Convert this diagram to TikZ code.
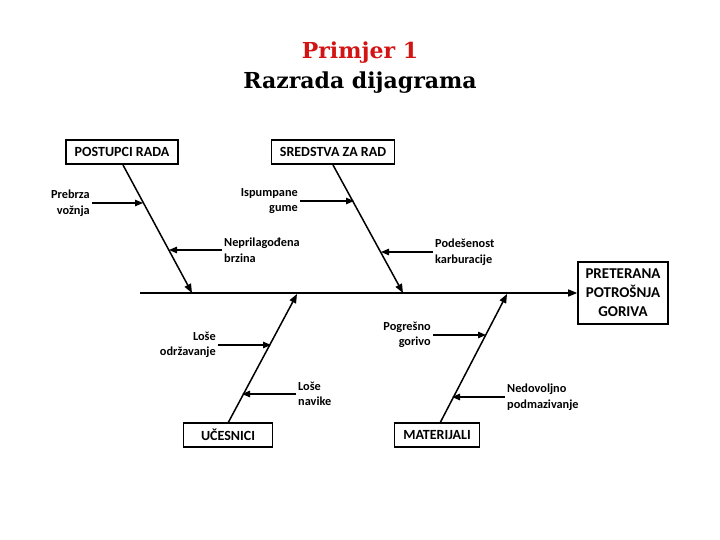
\documentclass[tikz,border=0pt]{standalone}
\usepackage{fontspec}
\setmainfont{Carlito}
\newfontfamily\titlefont{DejaVu Serif}
\usepackage{xcolor}
\definecolor{fbred}{RGB}{210,20,20}
\usetikzlibrary{arrows.meta,positioning,calc}

\begin{document}
\begin{tikzpicture}[x=1pt,y=-1pt,
  cause/.style={rectangle, draw=black, line width=1.6pt, fill=white,
                minimum height=24pt, inner sep=2pt,
                font=\fontsize{14}{16}\selectfont\bfseries},
  effect/.style={rectangle, draw=black, line width=1.6pt,
                 minimum width=90pt, minimum height=62pt, align=center,
                 inner sep=1pt, font=\fontsize{15}{19}\selectfont\bfseries},
  sub/.style={inner sep=2pt, font=\fontsize{12.3}{15.5}\selectfont\bfseries},
  bone/.style={-{Triangle[length=9pt,width=7pt]}, line width=1.5pt},
  conn/.style={-{Triangle[length=8pt,width=6.5pt]}, line width=1.2pt}
]
\useasboundingbox (0,0) rectangle (720,540);

% title
\node[font=\titlefont\bfseries\fontsize{22}{26}\selectfont, text=fbred] (t1) at (360,53) {Primjer 1};
\node[font=\titlefont\bfseries\fontsize{22}{26}\selectfont] (t2) at (360,83) {Razrada dijagrama};

% head and spine
\node[effect] (eff) at (623,293) {PRETERANA\\POTROŠNJA\\GORIVA};
\coordinate (tail) at (140,293);
\draw[bone] (tail) -- (eff.west);

% main causes
\node[cause, minimum width=112pt] (c1) at (122,152) {POSTUPCI RADA};
\node[cause, minimum width=123pt] (c2) at (333,152) {SREDSTVA ZA RAD};
\node[cause, minimum width=89pt]  (c3) at (228,435) {UČESNICI};
\node[cause, minimum width=85pt]  (c4) at (437,435) {MATERIJALI};

\coordinate (s1) at (192,293);
\coordinate (s2) at (403,293);
\coordinate (s3) at (297,294);
\coordinate (s4) at (507,294);
\draw[bone] (123,165) -- (s1);
\draw[bone] (333,165) -- (s2);
\draw[bone] (228,423) -- (s3);
\draw[bone] (440,423) -- (s4);

% sub causes
\coordinate (p1) at (143,203);
\coordinate (p2) at (169,250);
\coordinate (p3) at (354,201);
\coordinate (p4) at (381,252);
\coordinate (p5) at (271,345);
\coordinate (p6) at (242,394);
\coordinate (p7) at (486,335);
\coordinate (p8) at (452,397);

\node[sub, anchor=east, align=right] (l1) at (92,203)  {Prebrza\\vožnja};
\node[sub, anchor=west, align=left]  (l2) at (222,250) {Neprilagođena\\brzina};
\node[sub, anchor=east, align=right] (l3) at (300,201) {Ispumpane\\gume};
\node[sub, anchor=west, align=left]  (l4) at (433,252) {Podešenost\\karburacije};
\node[sub, anchor=east, align=right] (l5) at (218,345) {Loše\\održavanje};
\node[sub, anchor=west, align=left]  (l6) at (296,394) {Loše\\navike};
\node[sub, anchor=east, align=right] (l7) at (433,335) {Pogrešno\\gorivo};
\node[sub, anchor=west, align=left]  (l8) at (505,397) {Nedovoljno\\podmazivanje};

\draw[conn] (l1.east) -- (p1);
\draw[conn] (l2.west) -- (p2);
\draw[conn] (l3.east) -- (p3);
\draw[conn] (l4.west) -- (p4);
\draw[conn] (l5.east) -- (p5);
\draw[conn] (l6.west) -- (p6);
\draw[conn] (l7.east) -- (p7);
\draw[conn] (l8.west) -- (p8);
\end{tikzpicture}
\end{document}
